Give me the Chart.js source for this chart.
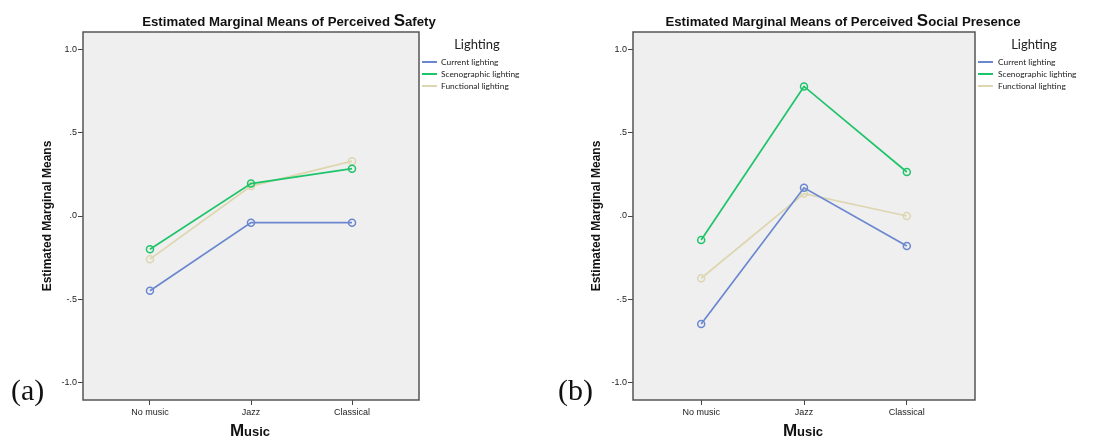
<!DOCTYPE html>
<html>
<head>
<meta charset="utf-8">
<script src="https://cdn.jsdelivr.net/npm/chart.js@4"></script>
<style>
  body { margin: 0; background: #fff; width: 1113px; height: 439px; overflow: hidden; position: relative; font-family: "Liberation Sans", Arial, sans-serif; }
  .panel { position: absolute; top: 0; height: 439px; }
  .lbl { position: absolute; white-space: nowrap; transform: translate(-50%, -50%); }
  .title { font-weight: bold; font-size: 13.2px; color: #111; }
  .title .big { font-size: 17px; }
  .xtitle { font-family: "Liberation Sans Narrow", "Arial Narrow", "Liberation Sans", sans-serif; font-weight: bold; font-size: 13px; color: #111; }
  .xtitle .big { font-size: 17px; }
  .legend { position: absolute; font-family: Lato, "Open Sans", sans-serif; color: #222; }
  .legend .head { position: absolute; font-size: 13px; transform: translate(-50%, -50%); white-space: nowrap; }
  .legend .item { position: absolute; font-size: 8.4px; white-space: nowrap; transform: translateY(-50%); }
  .legend .sw { position: absolute; height: 2px; width: 15px; transform: translateY(-50%); }
  .tag { position: absolute; font-family: "Liberation Serif", "Times New Roman", serif; font-size: 30px; color: #111; transform: translateY(-50%); }
</style>
</head>
<body>
<div class="panel" style="left:0;width:556px"><canvas id="chartA" width="556" height="439"></canvas></div>
<div class="panel" style="left:556px;width:557px"><canvas id="chartB" width="557" height="439"></canvas></div>

<div class="lbl title" style="left:289px;top:21px">Estimated Marginal Means of Perceived <span class="big">S</span>afety</div>
<div class="lbl title" style="left:843px;top:21px">Estimated Marginal Means of Perceived <span class="big">S</span>ocial Presence</div>
<div class="lbl xtitle" style="left:250px;top:431px"><span class="big">M</span>usic</div>
<div class="lbl xtitle" style="left:803px;top:431px"><span class="big">M</span>usic</div>
<div class="tag" style="left:11px;top:390px">(a)</div>
<div class="tag" style="left:558px;top:390px">(b)</div>

<div class="legend" id="legendA"></div>
<div class="legend" id="legendB"></div>

<script>
// music conditions on the x axis
const categories = ['No music', 'Jazz', 'Classical'];
const lightingNames = ['Current lighting', 'Scenographic lighting', 'Functional lighting'];
const lightingColors = ['#6a87d0', '#1ec46a', '#ddd6b0'];

const yTicks = [-1, -0.5, 0, 0.5, 1];
const yTickLabels = ['-1.0', '-.5', '.0', '.5', '1.0'];

// (a) perceived safety
const safetyCurrent = [-0.45, -0.04, -0.04];
const safetyScenographic = [-0.20, 0.195, 0.285];
const safetyFunctional = [-0.26, 0.18, 0.33];

// (b) perceived social presence
const socialCurrent = [-0.65, 0.17, -0.18];
const socialScenographic = [-0.145, 0.78, 0.265];
const socialFunctional = [-0.375, 0.135, 0.0];

const plotFrame = {
    id: 'plotFrame',
    beforeDraw(chart) {
        const {ctx, chartArea: a} = chart;
        ctx.save();
        ctx.fillStyle = '#efefef';
        ctx.fillRect(a.left, a.top, a.width, a.height);
        ctx.restore();
    },
    afterDraw(chart) {
        const {ctx, chartArea: a} = chart;
        ctx.save();
        ctx.strokeStyle = '#555';
        ctx.lineWidth = 1.5;
        ctx.strokeRect(a.left, a.top, a.width, a.height);
        ctx.restore();
    }
};

function makeDatasets(series) {
    return series.map((vals, i) => ({
        label: lightingNames[i],
        data: vals.map((v, j) => ({x: j, y: v})),
        borderColor: lightingColors[i],
        pointBorderColor: lightingColors[i],
        pointBackgroundColor: 'rgba(0,0,0,0)',
        borderWidth: 1.7,
        pointRadius: 3.5,
        pointBorderWidth: 1.5,
        tension: 0
    }));
}

function makeChart(id, series, yAxisWidth, titleOffset, rightPad) {
    const tickFont = {family: '"Liberation Sans", Arial, sans-serif', size: 9};
    return new Chart(document.getElementById(id), {
        type: 'line',
        data: {datasets: makeDatasets(series)},
        plugins: [plotFrame],
        options: {
            responsive: false,
            animation: false,
            layout: {padding: {left: 0, top: 32, right: rightPad, bottom: 0}},
            plugins: {legend: {display: false}, title: {display: false}, tooltip: {enabled: false}},
            scales: {
                x: {
                    type: 'linear',
                    min: -0.663,
                    max: 2.663,
                    afterBuildTicks: s => { s.ticks = categories.map((c, i) => ({value: i})); },
                    afterFit: s => { s.height = 39; },
                    border: {display: false},
                    grid: {drawOnChartArea: false, drawTicks: true, tickLength: 5, color: '#444'},
                    ticks: {callback: v => categories[v], font: tickFont, color: '#222', padding: 2, maxRotation: 0}
                },
                y: {
                    min: -1.108,
                    max: 1.108,
                    afterBuildTicks: s => { s.ticks = yTicks.map(v => ({value: v})); },
                    afterFit: s => { s.width = yAxisWidth; },
                    border: {display: false},
                    grid: {drawOnChartArea: false, drawTicks: true, tickLength: 5, color: '#444'},
                    ticks: {callback: v => yTickLabels[yTicks.indexOf(v)], font: tickFont, color: '#222', padding: 1},
                    title: {
                        display: true,
                        text: 'Estimated Marginal Means',
                        font: {family: '"Liberation Sans", Arial, sans-serif', size: 12, weight: 'bold'},
                        color: '#111',
                        padding: {top: titleOffset, bottom: 0}
                    }
                }
            }
        }
    });
}

function makeLegend(id, headX, swatchX, textX) {
    const box = document.getElementById(id);
    let html = '<div class="head" style="left:' + headX + 'px;top:44px">Lighting</div>';
    lightingNames.forEach((name, i) => {
        const y = 62 + i * 12;
        html += '<div class="sw" style="left:' + swatchX + 'px;top:' + y + 'px;background:' + lightingColors[i] + '"></div>';
        html += '<div class="item" style="left:' + textX + 'px;top:' + y + 'px">' + name + '</div>';
    });
    box.innerHTML = html;
}

makeChart('chartA', [safetyCurrent, safetyScenographic, safetyFunctional], 83, 40.5, 137);
makeChart('chartB', [socialCurrent, socialScenographic, socialFunctional], 77, 33, 138);
makeLegend('legendA', 477, 422, 441);
makeLegend('legendB', 1034, 978, 998);
</script>
</body>
</html>
